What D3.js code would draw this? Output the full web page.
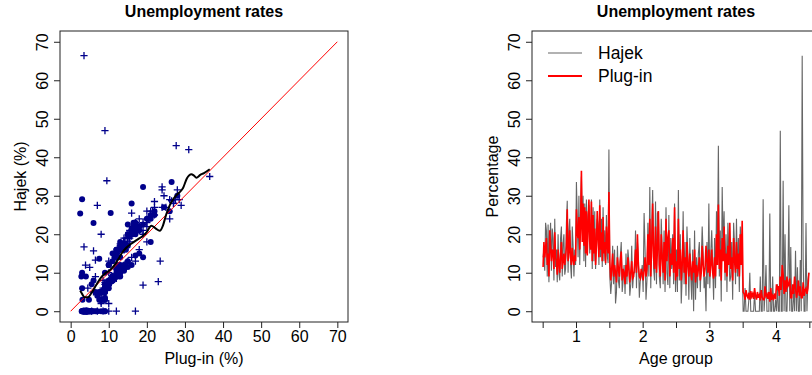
<!DOCTYPE html>
<html>
<head>
<meta charset="utf-8">
<title>Unemployment rates</title>
<script src="https://d3js.org/d3.v7.min.js"></script>
<style>
  body { margin: 0; background: #fff; }
  svg text { font-family: "Liberation Sans", Arial, Helvetica, sans-serif; fill: #000; }
</style>
</head>
<body>
<svg id="chart" width="812" height="375"></svg>
<script>
// Plug-in and Hajek estimates (%), one array per age group
const plugin1 = [11.5,18,14,16.5,19,12,15,9,21,17, 13,16,15.5,11,20.5,14,13,9.5,16,12.5,
  10,14.5,18,11,13,15,12,14,17,26.5, 13,15.5,21,14,12,16.5,13.5,12,14.5,13,
  26.5,20,19,24.5,16,22,36.5,18,28,17, 27,15,26,14.5,22,29,18,16,28.5,13,
  25,15,21.5,12,17,26,19,14,27.5,16, 20.5,13,24.5,15,18,12.5,22,17,15,31];
const hajek1 = [14,16,10.5,23,21,9,22.5,7.5,18,23, 10.5,21.5,19,8,24,11.5,16,7.5,20,10,
  8,19,22,9,17.5,20,9.5,11,23,28.7, 10,21,24,12,8.5,22,17,9,16,12,
  33.6,24,14,30,12,27,35,22,30,13, 28,11.5,29,17.5,25,27.5,15,19.5,29,11,
  27,13,26,11,20,24,22.5,12,29,14, 24,11.5,27,13,21,12,25,14.5,12.5,42];
const marks1 = "o+oo+oo+o+oo+o+oo+ooo+oo+o+oo+o+oo+oo+oo" +
  "o+o+o+++o++o+oo+o++o+o+oo+o+++o+o+oo+o++";

const plugin2 = [13,8,11,15,9,12,10,7.5,14,11, 9,13,15.5,8,11,10,7,12,9,14,
  11,7.5,10,13,8.5,9,12,16,10,20, 12,9,8.5,11,10,8,10.5,14,9,11,
  20,12,24,9,17,28,14,11,22,10, 16,26,12,9,20,14,10,18,8,24,
  13,19,21,9,15,12,19,10,27,8];
const hajek2 = [9,4.5,8,17,7,16,2,5,17,8, 6,14,18,5,8,12,4.5,15,7,16,
  13,4,7,17,6,10,10,21,6,18, 14,3.5,8,9,12,5,25.5,16,3,8,
  23,9,32.3,6,21,31.5,11,8,28.5,7, 25.5,26,9,6,24,16,7,21,5,27,
  10,6.8,25,6,19,11,20,7,28,5];
const marks2 = "o+oo+o+oo+oo+o+oo+o+o+oo+oo+o+oo+oo+o+oo" +
  "+o+oo+o++o+o+oo+o+o+o+oo+o+o+o";

const plugin3 = [13,9,24,11,16,8,12,21,10,14, 7,18,12,9,15,11,8,13,10,16,
  7.5,12,9,11,14,8,10,17,12,9, 11,17,13,10,16,9,12,16,10,8.5,
  14,9,20,12,27.7,11,16,8,19,13, 22,10,15,9,17,12,23,11,14,8,
  19,13,10,18,11,15,9,20,12,23.5];
const hajek3 = [16,5,31.5,8,20,2,9,26,7,18, 4,22,14,3,19,9,3,16,0,21,
  3,14,6,15,18,5,13,22,15,6, 9,0,18,7,28,6,15,21,12,3,
  19,6,26,15,43,9,21,2.5,32.3,17, 26,8,20,5,23,15,7.7,9,18,3,
  23,17,7,24,9,19,5,22,16,13];
const marks3 = "+o+oo+o+o+oo+o+oo++oo+oo+o+o++++o+o+o+oo" +
  "+o+o+oo+o+o+oo+o+o+o+oo+o+o+o+";

const plugin4 = [5,4.5,3,5.5,4,3.5,4.8,3,5.2,3.8, 4.5,3.2,6,4,3,5,3.5,4.2,2.8,5.5,
  3.6,3,3,6.5,3.9,4.4,3.2,5,2.5,6, 2.9,4,3.3,4.6,3.1,7,5.5,6.5,4,9,
  5.5,12,9.5,4.5,8,5,9,6.5,7,8.5, 3.5,3.5,7,4.5,9,6,3.5,5,8,4,
  6.5,3.5,3.5,7.5,4,5.5,6,4.5,6,10];
const hajek4 = [0,0,6,0,0,0,3,10,0,0, 0,0,5,0,0,0,0,0,9,0,
  0,29.1,0,5,12,0,0,0,25.4,0, 0,9,0,0,3,0,7,0,0,46.9,
  0,0,33.9,0,20,0,0,9,27.5,0, 16.7,0,0,6,0,15.7,0,11.4,0,0,
  13.3,0,66.4,13.6,0,0,22.9,0,8,10];
const marks4 = "oooo+ooooooo+oooo+o++ooo+ooooooo+oo+oo++" +
  "o++o+oo++++oo+o+o+oo+o+oooo+o+";

const ageGroups = [1, 2, 3, 4];
const pluginByGroup = [plugin1, plugin2, plugin3, plugin4];
const hajekByGroup = [hajek1, hajek2, hajek3, hajek4];
const marksByGroup = [marks1, marks2, marks3, marks4];

// kernel smoother of Hajek on Plug-in
const smoothX = [2.5,3,3.7,4.5,5.5,6.7,8,9,10.2,11.5,12.5,13.5,14.6,16,17.5,19,19.9,
  21.2,22.2,23.4,24.2,25.1,26,26.9,27.8,28.6,29.5,30.5,31.7,32.3,33,34,35,36.5];
const smoothY = [5.3,4.5,3.6,3.6,4.8,6.8,8.8,9.8,10.6,12,13.5,15.2,16.5,17.6,18.6,19.6,20.5,
  22.2,21.6,20.9,22.2,25.2,27.5,29.1,30.2,30.9,32,34.5,35.6,35.3,34.7,35.4,35.9,36.9];

const axisTicks = [0, 10, 20, 30, 40, 50, 60, 70];
const groupTicks = [0.5, 1, 1.5, 2, 2.5, 3, 3.5, 4, 4.5];

// flatten into points
const points = [];
ageGroups.forEach((g, gi) => {
  const p = pluginByGroup[gi], h = hajekByGroup[gi], m = marksByGroup[gi];
  p.forEach((v, j) => {
    points.push({ g: g, pos: g - 0.5 + (j + 0.5) / p.length, p: v, h: h[j], mark: m[j] || "o" });
  });
});

const svg = d3.select("#chart");
const navy = "#00008B";
const fontSize = 16;

function drawFrame(x0, x1, y0, y1) {
  svg.append("rect")
    .attr("x", x0).attr("y", y0)
    .attr("width", x1 - x0).attr("height", y1 - y0)
    .attr("fill", "none").attr("stroke", "#222").attr("stroke-width", 1);
}

function styleAxis(g) {
  g.select(".domain").remove();
  g.selectAll(".tick line").attr("stroke", "#222");
  g.selectAll("text").attr("font-size", fontSize).attr("font-family", null).attr("fill", "#000");
}

function yAxis(y, x0) {
  const g = svg.append("g").attr("transform", `translate(${x0},0)`)
    .call(d3.axisLeft(y).tickValues(axisTicks).tickSize(6));
  styleAxis(g);
  g.selectAll("text")
    .attr("x", null).attr("dy", null)
    .attr("text-anchor", "middle")
    .attr("transform", "translate(-12,0) rotate(-90)");
}

// ---------- left panel: scatter ----------
const xL = d3.scaleLinear().domain([-2.8, 72.8]).range([60, 348]);
const yL = d3.scaleLinear().domain([-2.8, 72.8]).range([322, 31]);

const gxL = svg.append("g").attr("transform", "translate(0,322)")
  .call(d3.axisBottom(xL).tickValues(axisTicks).tickSize(6).tickPadding(3));
styleAxis(gxL);
yAxis(yL, 60);

const scatter = svg.append("g");
points.forEach(d => {
  if (d.mark === "+") {
    scatter.append("path")
      .attr("d", "M-3.6,0H3.6M0,-3.6V3.6")
      .attr("transform", `translate(${xL(d.p)},${yL(d.h)})`)
      .attr("stroke", navy).attr("stroke-width", 1.3).attr("fill", "none");
  } else {
    scatter.append("circle")
      .attr("cx", xL(d.p)).attr("cy", yL(d.h)).attr("r", 3)
      .attr("fill", navy);
  }
});

svg.append("line")
  .attr("x1", xL(0)).attr("y1", yL(0))
  .attr("x2", xL(70)).attr("y2", yL(70))
  .attr("stroke", "red").attr("stroke-width", 1);

svg.append("path")
  .datum(smoothX.map((v, i) => [v, smoothY[i]]))
  .attr("d", d3.line().x(d => xL(d[0])).y(d => yL(d[1])).curve(d3.curveMonotoneX))
  .attr("fill", "none").attr("stroke", "#000").attr("stroke-width", 2);

drawFrame(60, 348, 31, 322);

svg.append("text").attr("x", 204).attr("y", 16.5)
  .attr("text-anchor", "middle").attr("font-size", fontSize).attr("font-weight", "bold")
  .text("Unemployment rates");
svg.append("text").attr("x", 204).attr("y", 364)
  .attr("text-anchor", "middle").attr("font-size", fontSize).text("Plug-in (%)");
svg.append("text").attr("transform", "translate(26,176.5) rotate(-90)")
  .attr("text-anchor", "middle").attr("font-size", fontSize).text("Hajek (%)");

// ---------- right panel: series by age group ----------
const xR = d3.scaleLinear().domain([0.34, 4.66]).range([532, 820]);
const yR = d3.scaleLinear().domain([-2.8, 72.8]).range([322, 31]);

const gxR = svg.append("g").attr("transform", "translate(0,322)")
  .call(d3.axisBottom(xR).tickValues(groupTicks).tickSize(6).tickPadding(3)
    .tickFormat(d => Number.isInteger(d) ? d : ""));
styleAxis(gxR);
yAxis(yR, 532);

svg.append("path").datum(points)
  .attr("d", d3.line().x(d => xR(d.pos)).y(d => yR(d.h)))
  .attr("fill", "none").attr("stroke", "#666").attr("stroke-width", 1.1);
svg.append("path").datum(points)
  .attr("d", d3.line().x(d => xR(d.pos)).y(d => yR(d.p)))
  .attr("fill", "none").attr("stroke", "red").attr("stroke-width", 1.6);

drawFrame(532, 820, 31, 322);

svg.append("text").attr("x", 676).attr("y", 16.5)
  .attr("text-anchor", "middle").attr("font-size", fontSize).attr("font-weight", "bold")
  .text("Unemployment rates");
svg.append("text").attr("x", 676).attr("y", 364)
  .attr("text-anchor", "middle").attr("font-size", fontSize).text("Age group");
svg.append("text").attr("transform", "translate(498,176.5) rotate(-90)")
  .attr("text-anchor", "middle").attr("font-size", fontSize).text("Percentage");

// legend
const legendItems = [
  { name: "Hajek", color: "#666", width: 1.1, y: 53 },
  { name: "Plug-in", color: "red", width: 2, y: 76 }
];
legendItems.forEach(it => {
  svg.append("line").attr("x1", 548).attr("x2", 582).attr("y1", it.y).attr("y2", it.y)
    .attr("stroke", it.color).attr("stroke-width", it.width);
  svg.append("text").attr("x", 598).attr("y", it.y + 6.2)
    .attr("font-size", 17.5).text(it.name);
});
</script>
</body>
</html>
